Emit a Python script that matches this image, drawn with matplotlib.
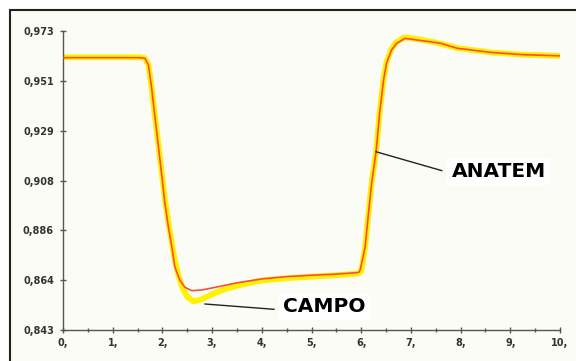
import numpy as np
import matplotlib.pyplot as plt
from matplotlib.patches import Rectangle

anatem_t = [0, 1.55, 1.65, 1.72, 1.78, 1.85, 1.92, 1.99, 2.05, 2.12, 2.19, 2.25, 2.35, 2.45,
            2.59, 2.79, 2.96, 3.5, 4.0, 4.5, 5.0, 5.5, 5.95, 5.98, 6.08, 6.14, 6.21, 6.30,
            6.37, 6.45, 6.51, 6.61, 6.71, 6.88, 7.12, 7.59, 7.93, 8.6, 9.26, 10]
anatem_v = [0.9614, 0.9614, 0.9611, 0.9582, 0.9488, 0.9357, 0.9227, 0.9097, 0.8981, 0.8879,
            0.8792, 0.8705, 0.8647, 0.8616, 0.8601, 0.8604, 0.8611, 0.8635, 0.8652, 0.8662,
            0.8668, 0.8673, 0.8680, 0.8691, 0.8792, 0.8923, 0.9068, 0.9205, 0.9372, 0.9517,
            0.9590, 0.9647, 0.9676, 0.9698, 0.9691, 0.9677, 0.9655, 0.9637, 0.9627, 0.9622]

campo_t = [0, 1.55, 1.65, 1.72, 1.78, 1.85, 1.92, 1.99, 2.05, 2.12, 2.19, 2.25, 2.32, 2.4,
           2.5, 2.62, 2.75, 2.9, 3.1, 3.3, 3.6, 4.0, 4.5, 5.0, 5.5, 5.95, 6.0, 6.08, 6.14,
           6.21, 6.3, 6.37, 6.45, 6.51, 6.61, 6.71, 6.88, 7.12, 7.5, 7.93, 8.6, 9.26, 10]
campo_v = [0.9616, 0.9616, 0.9611, 0.9582, 0.9488, 0.9360, 0.9235, 0.9110, 0.8998, 0.8898,
           0.8808, 0.8733, 0.8670, 0.8615, 0.8575, 0.8555, 0.8560, 0.8575, 0.8595, 0.8610,
           0.8628, 0.8645, 0.8655, 0.8662, 0.8668, 0.8676, 0.8685, 0.8792, 0.8925, 0.9070,
           0.9207, 0.9375, 0.9522, 0.9596, 0.9652, 0.9682, 0.9703, 0.9695, 0.9680, 0.9656,
           0.9637, 0.9627, 0.9622]

xticks = list(range(0, 11))
xtick_labels = ['%d,' % v for v in xticks]
yticks = np.linspace(0.843, 0.973, 7)
ytick_labels = ['0,843', '0,864', '0,886', '0,908', '0,929', '0,951', '0,973']

fig = plt.figure(figsize=(5.76, 3.61), dpi=100)
fig.patch.set_facecolor('white')
# panel with frame (only left and top edges fall inside the picture)
fig.patches.append(Rectangle((10/576, -0.05), 1.1, 1 - 10/361 + 0.05, transform=fig.transFigure,
                             facecolor='#FCFCF6', edgecolor='#222222', lw=1.5, zorder=-10))

ax = fig.add_axes([63/576, 1 - 330/361, 497/576, 299/361])
ax.set_facecolor('none')

ax.plot(campo_t, campo_v, color='#FFF200', lw=4.2, solid_capstyle='butt', zorder=2)
ax.plot(anatem_t, anatem_v, color='#FF4A3A', lw=1.2, zorder=3)

ax.set_xlim(0, 10)
ax.set_ylim(0.843, 0.973)
ax.spines['top'].set_visible(False)
ax.spines['right'].set_visible(False)
for s in ['left', 'bottom']:
    ax.spines[s].set_color('#555555')
    ax.spines[s].set_linewidth(1.0)

ax.set_xticks(xticks)
ax.set_xticklabels(xtick_labels)
ax.set_xticks(np.arange(0.5, 10, 1.0), minor=True)
ax.set_yticks(yticks)
ax.set_yticklabels(ytick_labels)
ax.tick_params(axis='both', which='major', direction='inout', length=5, width=1,
               color='#555555', labelsize=7, labelcolor='#333333')
ax.tick_params(axis='y', pad=4)
ax.tick_params(axis='x', pad=3)
ax.tick_params(axis='x', which='minor', direction='inout', length=2.5, width=1, color='#555555')
for lab in ax.get_xticklabels() + ax.get_yticklabels():
    lab.set_fontweight('bold')

# labels with leader lines
ax.plot([6.298, 7.62], [0.9205, 0.9123], color='#222222', lw=1.0, zorder=4)
ax.text(7.82, 0.9118, 'ANATEM', fontsize=14.5, fontweight='bold', va='center', ha='left',
        color='black', bbox=dict(facecolor='white', edgecolor='none', pad=3))
ax.plot([2.857, 4.245], [0.8543, 0.8520], color='#222222', lw=1.0, zorder=4)
ax.text(4.43, 0.8532, 'CAMPO', fontsize=14.5, fontweight='bold', va='center', ha='left',
        color='black', bbox=dict(facecolor='white', edgecolor='none', pad=3))

fig.savefig('out.png', dpi=100)
